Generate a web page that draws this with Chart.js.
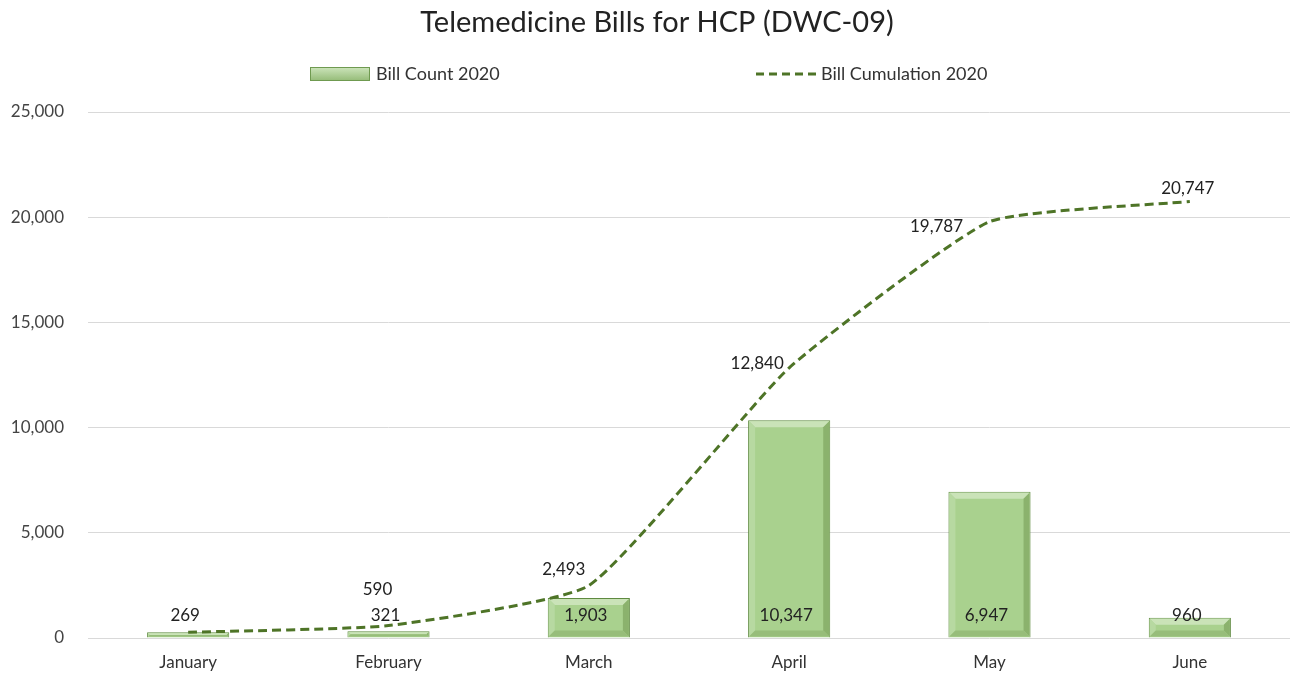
<!DOCTYPE html>
<html>
<head>
<meta charset="utf-8">
<script src="https://cdn.jsdelivr.net/npm/chart.js@4"></script>
<style>
  html, body { margin: 0; padding: 0; background: #fff; }
  #wrap { width: 1292px; height: 677px; }
</style>
</head>
<body>
<div id="wrap"><canvas id="myChart" width="1292" height="677"></canvas></div>
<script>
  let chartTitle = 'Telemedicine Bills for HCP (DWC-09)';
  let months = ['January', 'February', 'March', 'April', 'May', 'June'];
  let billCount = [269, 321, 1903, 10347, 6947, 960];
  let billCumulation = [269, 590, 2493, 12840, 19787, 20747];
  let yTicks = [0, 5000, 10000, 15000, 20000, 25000];

  // where each line label sits relative to its point (px), null = hidden
  let lineLabelOffset = [null, [-11, -36], [-25, -16], [-32, -4], [-53, 5], [-2, -13]];

  const FONT = 'Lato, "Open Sans", sans-serif';
  const FS = 17;

  function fmt(v) { return v.toLocaleString('en-US'); }

  function poly(ctx, pts, color) {
    ctx.fillStyle = color;
    ctx.beginPath();
    ctx.moveTo(pts[0][0], pts[0][1]);
    for (let i = 1; i < pts.length; i++) ctx.lineTo(pts[i][0], pts[i][1]);
    ctx.closePath();
    ctx.fill();
  }

  // bevel look on the bars (excel style)
  const bevelPlugin = {
    id: 'bevel',
    afterDatasetDraw(chart, args) {
      if (args.index !== 0) return;
      let ctx = chart.ctx;
      ctx.save();
      args.meta.data.forEach(bar => {
        let l = bar.x - bar.width / 2 + 1, r = bar.x + bar.width / 2 - 1;
        let t = bar.y + 1, b = bar.base - 1;
        let d = Math.min(6, (b - t) / 2);
        poly(ctx, [[l, t], [r, t], [r - d, t + d], [l + d, t + d]], '#cae3b8');
        poly(ctx, [[r, t], [r, b], [r - d, b - d], [r - d, t + d]], '#8bb26d');
        poly(ctx, [[l, t], [l + d, t + d], [l + d, b - d], [l, b]], '#b7d9a1');
        poly(ctx, [[l, b], [l + d, b - d], [r - d, b - d], [r, b]], '#97bd7a');
      });
      ctx.restore();
    }
  };

  // title, value labels, custom legend
  const labelPlugin = {
    id: 'labels',
    afterDatasetsDraw(chart) {
      let ctx = chart.ctx;
      ctx.save();
      ctx.textBaseline = 'middle';
      ctx.textAlign = 'center';
      ctx.fillStyle = '#222';
      ctx.font = '29px ' + FONT;
      ctx.fillText(chartTitle, 657, 23);

      ctx.font = FS + 'px ' + FONT;
      let y0 = chart.scales.y.getPixelForValue(0);
      chart.getDatasetMeta(0).data.forEach((bar, i) => {
        ctx.fillText(fmt(billCount[i]), bar.x - 3, y0 - 22);
      });
      chart.getDatasetMeta(1).data.forEach((pt, i) => {
        let off = lineLabelOffset[i];
        if (!off) return;
        ctx.fillText(fmt(billCumulation[i]), pt.x + off[0], pt.y + off[1]);
      });

      // legend
      let ly = 74;
      let g = ctx.createLinearGradient(0, ly - 7, 0, ly + 7);
      g.addColorStop(0, '#cde5bc');
      g.addColorStop(1, '#94bb77');
      ctx.fillStyle = g;
      ctx.fillRect(310, ly - 7, 60, 14);
      ctx.strokeStyle = '#6f9a50';
      ctx.lineWidth = 1;
      ctx.strokeRect(310.5, ly - 6.5, 59, 13);
      ctx.strokeStyle = '#4e7427';
      ctx.lineWidth = 3;
      ctx.setLineDash([8, 5]);
      ctx.beginPath();
      ctx.moveTo(756, ly);
      ctx.lineTo(816, ly);
      ctx.stroke();
      ctx.setLineDash([]);
      ctx.fillStyle = '#333';
      ctx.textAlign = 'left';
      ctx.font = '18px ' + FONT;
      ctx.fillText(chart.data.datasets[0].label, 376, ly);
      ctx.fillText(chart.data.datasets[1].label, 821, ly);
      ctx.restore();
    }
  };

  let ctx = document.getElementById('myChart').getContext('2d');
  let chart = new Chart(ctx, {
    data: {
      labels: months,
      datasets: [
        {
          type: 'bar',
          label: 'Bill Count 2020',
          data: billCount,
          backgroundColor: '#a9d18e',
          borderColor: '#5f8a40',
          borderWidth: 1,
          barPercentage: 0.41,
          categoryPercentage: 1,
          order: 1
        },
        {
          type: 'line',
          label: 'Bill Cumulation 2020',
          data: billCumulation,
          borderColor: '#4e7427',
          borderWidth: 3,
          borderDash: [9, 5],
          pointRadius: 0,
          tension: 0.15,
          fill: false,
          order: 0
        }
      ]
    },
    options: {
      responsive: false,
      animation: false,
      layout: { padding: { top: 112, left: 0, right: 2, bottom: 0 } },
      plugins: {
        legend: { display: false },
        tooltip: { enabled: false },
        title: { display: false }
      },
      scales: {
        x: {
          grid: { display: false },
          border: { display: false },
          ticks: { color: '#333', font: { family: FONT, size: FS }, padding: 6 },
          afterFit: scale => { scale.height = 39; }
        },
        y: {
          min: 0,
          max: 25000,
          afterBuildTicks: axis => { axis.ticks = yTicks.map(v => ({ value: v })); },
          grid: { color: '#d9d9d9', drawTicks: false, lineWidth: 1 },
          border: { display: false },
          ticks: {
            color: '#444',
            font: { family: FONT, size: FS },
            padding: 24,
            callback: v => fmt(v)
          },
          afterFit: scale => { scale.width = 88; }
        }
      }
    },
    plugins: [bevelPlugin, labelPlugin]
  });
</script>
</body>
</html>
